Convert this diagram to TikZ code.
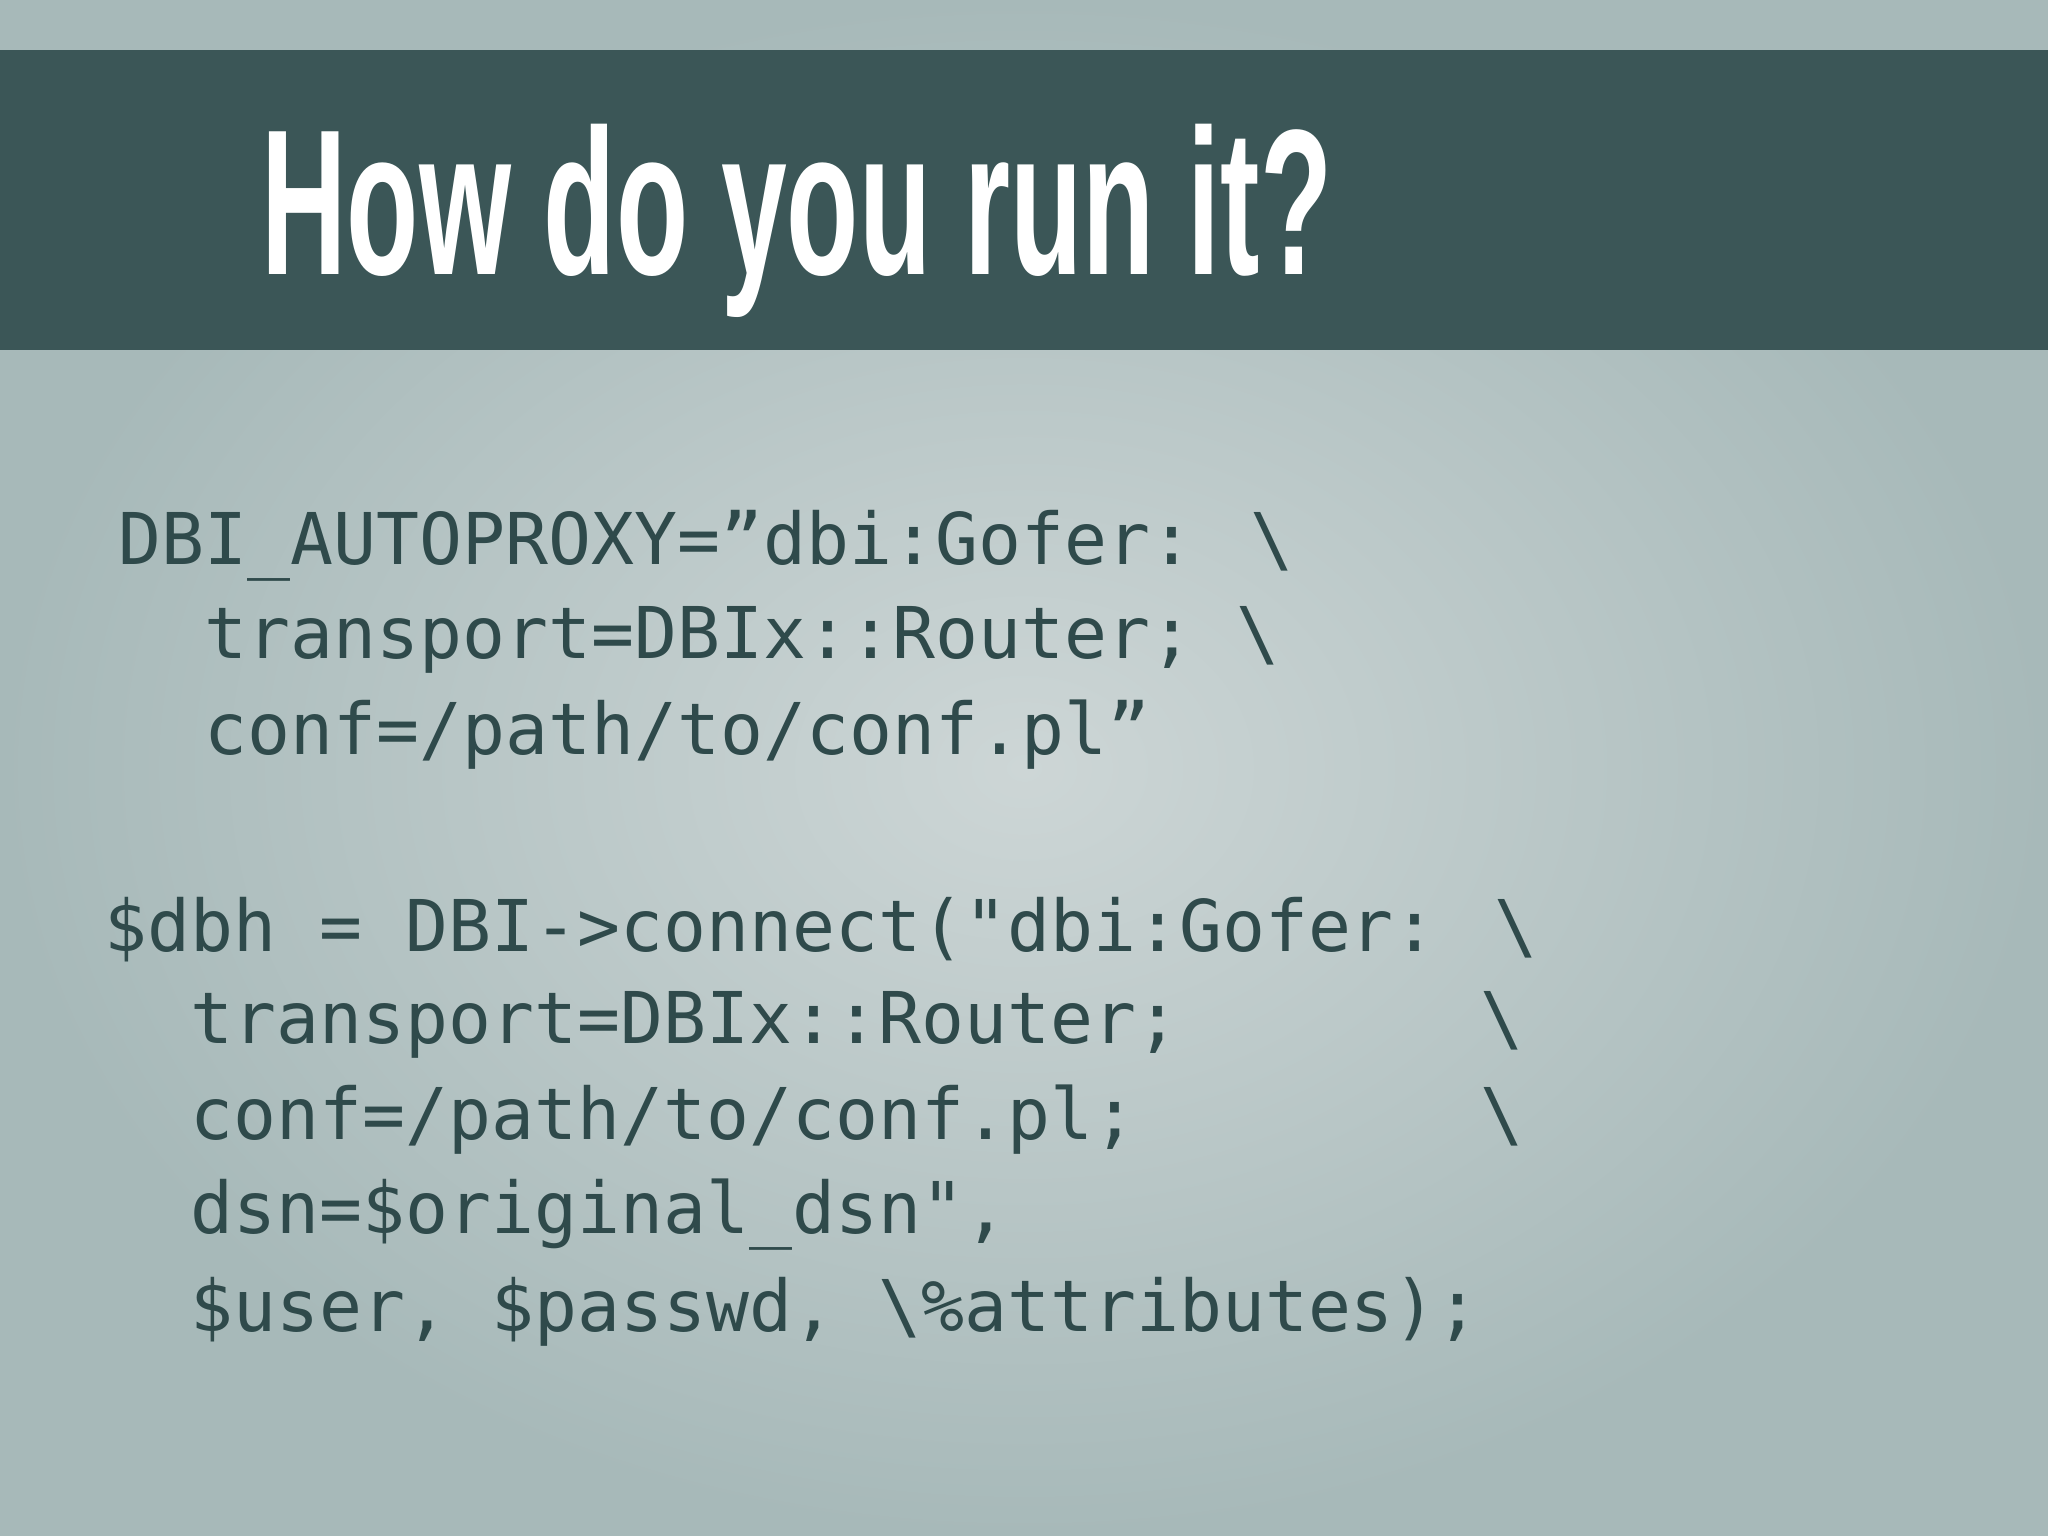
\documentclass[tikz,border=0pt]{standalone}
\usepackage{fontspec}
\setmainfont{Liberation Sans}
\newfontfamily\codefont{DejaVu Sans Mono}
\definecolor{bgout}{HTML}{A7B9B9}
\definecolor{bgin}{HTML}{CDD6D6}
\definecolor{band}{HTML}{3B5657}
\definecolor{codecol}{HTML}{2F4A4B}
\begin{document}
\begin{tikzpicture}[x=0.01cm,y=-0.01cm,
  code/.style={anchor=west,inner sep=0pt,text=codecol,font=\codefont\fontsize{20.3pt}{21pt}\selectfont}]
\useasboundingbox (0,0) rectangle (2048,1536);
\shade[outer color=bgout,inner color=bgin] (0,0) rectangle (2048,1536);
\fill[band] (0,50) rectangle (2048,350);
\node[anchor=base west,inner sep=0pt,text=white,xscale=0.57,font=\bfseries\fontsize{59pt}{60pt}\selectfont] (title) at (261,274) {How do you run it?};
\node[code] (a1) at (118,546) {DBI\_AUTOPROXY=”dbi:Gofer: \textbackslash};
\node[code] (a2) at (118,640) {~~transport=DBIx::Router; \textbackslash};
\node[code] (a3) at (118,735) {~~conf=/path/to/conf.pl”};
\node[code] (b1) at (104,930) {\$dbh = DBI->connect("dbi:Gofer: \textbackslash};
\node[code] (b2) at (104,1025) {~~transport=DBIx::Router;~~~~~~~\textbackslash};
\node[code] (b3) at (104,1120) {~~conf=/path/to/conf.pl;~~~~~~~~\textbackslash};
\node[code] (b4) at (104,1215) {~~dsn=\$original\_dsn",};
\node[code] (b5) at (104,1312) {~~\$user, \$passwd, \textbackslash\%attributes);};
\end{tikzpicture}
\end{document}
